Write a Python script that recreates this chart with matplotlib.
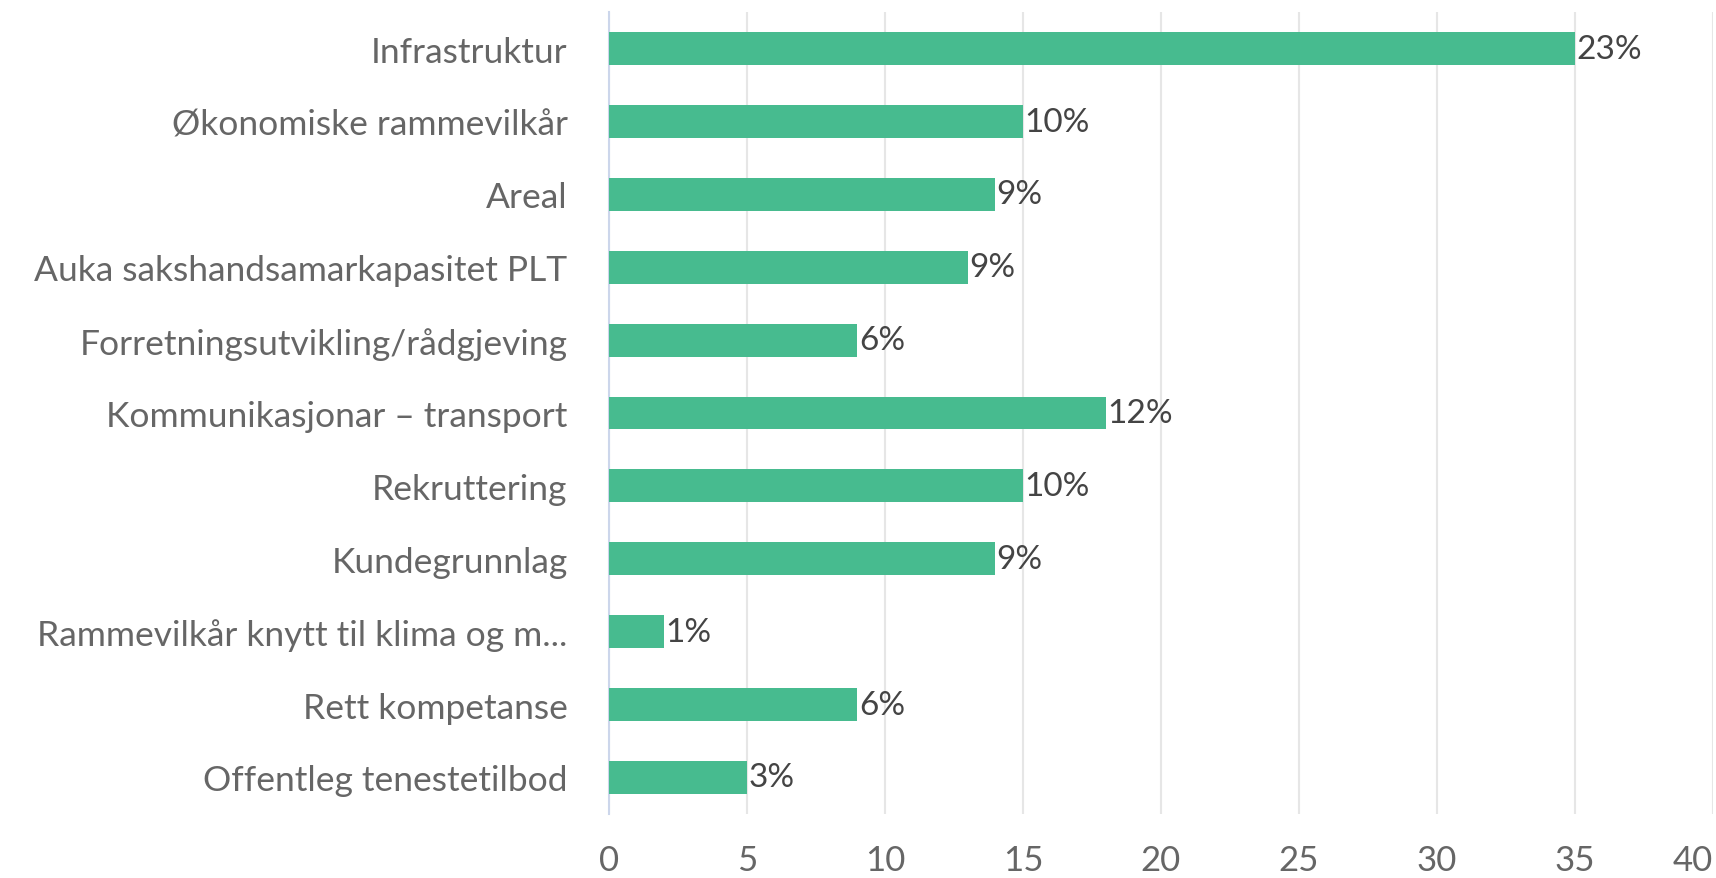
import matplotlib
matplotlib.use("Agg")
import matplotlib.pyplot as plt

categories = ["Infrastruktur", "Økonomiske rammevilkår", "Areal",
              "Auka sakshandsamarkapasitet PLT", "Forretningsutvikling/rådgjeving",
              "Kommunikasjonar – transport", "Rekruttering", "Kundegrunnlag",
              "Rammevilkår knytt til klima og m...", "Rett kompetanse",
              "Offentleg tenestetilbod"]
values = [35, 15, 14, 13, 9, 18, 15, 14, 2, 9, 5]
pct_labels = ["23%", "10%", "9%", "9%", "6%", "12%", "10%", "9%", "1%", "6%", "3%"]
xticks = [0, 5, 10, 15, 20, 25, 30, 35, 40]

plt.rcParams['font.family'] = ['Lato', 'DejaVu Sans']

fig = plt.figure(figsize=(17.16, 8.79), dpi=100)
ax = fig.add_axes([0.355, 0.073, 0.643, 0.912])

y = list(range(len(categories)))
ax.barh(y, values, height=0.45, color="#47bb8f", zorder=3)
for yi, v, lab in zip(y, values, pct_labels):
    ax.text(v + 0.05, yi, lab, va="center", ha="left", fontsize=24, color="#444444", zorder=4)

ax.set_ylim(len(categories) - 0.5, -0.5)
ax.set_xlim(0, 40)
ax.set_yticks(y)
ax.set_yticklabels(categories, fontsize=25.5, color="#666666")
ax.set_xticks(xticks)
ax.set_xticklabels([str(t) for t in xticks], fontsize=25, color="#666666")
ax.get_xticklabels()[-1].set_horizontalalignment("right")
ax.tick_params(axis="y", length=0, pad=30)
ax.tick_params(axis="x", length=0, pad=22)
ax.grid(axis="x", color="#e6e6e6", linewidth=1.5, zorder=0)
for s in ["top", "right", "bottom"]:
    ax.spines[s].set_visible(False)
ax.spines["left"].set_color("#ccd6eb")
ax.spines["left"].set_linewidth(1.5)

fig.savefig("out.png", dpi=100)
